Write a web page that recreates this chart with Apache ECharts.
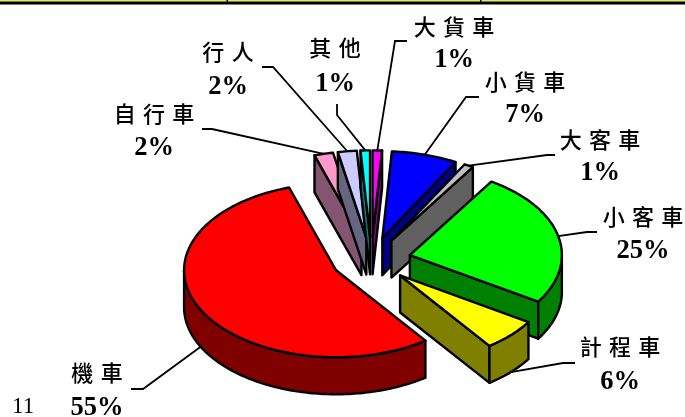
<!DOCTYPE html>
<html><head><meta charset="utf-8">
<style>html,body{margin:0;padding:0;background:#fff}#c{width:685px;height:417px}</style>
<script src="https://cdn.jsdelivr.net/npm/echarts@6/dist/echarts.min.js"></script>
</head><body><div id="c"></div>
<script>
// Data, in painter's order (back of the pie first)
var categories = ['自行車','行人','其他','大貨車','小貨車','大客車','小客車','計程車','機車'];
var percents   = [2,2,1,1,7,1,25,6,55];
var topColors  = ['#ff99cc','#ccccff','#00ffff','#ff00ff','#0000ff','#c0c0c0','#00ff00','#ffff00','#ff0000'];
var sideColors = ['#845570','#666680','#008080','#800080','#000080','#606060','#008000','#808000','#800000'];
var footnote = '11';

// Layout (not data)
var pie = {cx:371.3, cy:260, rx:152, ry:87, explode:0.26, depth:37, start:342};
var labelPos = [[154,114,148],[228,52,87],[335,48,84],[454,27,60],[525,82,115],[600,140,173],[643,217,251],[620,347,382],[97,373,408]];
var leaderPts = [
  [[202,129],[212,129]],[[262,67],[273,67]],[[337,104],[337,115]],[[407,41],[395,41]],[[479,97],[466,97]],
  [[555,155],[547,155]],[[597,232],[587,232]],[[575,363],[563,363]],[[131,389],[143,389]]
];

var total = percents.reduce(function(a,b){return a+b;},0);
function slice(i){
  var before = percents.slice(0,i).reduce(function(a,b){return a+b;},0);
  var a1 = pie.start + before/total*360;
  if(a1>=360-1e-6) a1-=360;
  var a2 = a1 + percents[i]/total*360, m=(a1+a2)/2;
  var ax = pie.cx + pie.rx*pie.explode*Math.sin(m*Math.PI/180);
  var ay = pie.cy - pie.ry*pie.explode*Math.cos(m*Math.PI/180);
  return {a1:a1,a2:a2,m:m,ax:ax,ay:ay};
}
function rim(s,a,d){
  var r=a*Math.PI/180;
  return [s.ax+pie.rx*Math.sin(r), s.ay-pie.ry*Math.cos(r)+(d||0)];
}
function poly(points,fill){
  return {type:'polygon',shape:{points:points},style:{fill:fill,stroke:'#000',lineWidth:2.4,lineJoin:'round'}};
}
function renderSlice(params,api){
  var i=api.value(0), s=slice(i), D=pie.depth, kids=[], a;
  var sn=function(a){return Math.sin(a*Math.PI/180);};
  var A=[s.ax,s.ay], B=[s.ax,s.ay+D];
  if(sn(s.a1)<-1e-6) kids.push(poly([A,rim(s,s.a1),rim(s,s.a1,D),B],sideColors[i]));
  if(sn(s.a2)>1e-6)  kids.push(poly([A,rim(s,s.a2),rim(s,s.a2,D),B],sideColors[i]));
  var lo=Math.max(s.a1,90), hi=Math.min(s.a2,270);
  if(hi>lo){
    var t=[],b=[];
    for(a=lo;a<hi;a+=1){t.push(rim(s,a));b.unshift(rim(s,a,D));}
    t.push(rim(s,hi));b.unshift(rim(s,hi,D));
    kids.push(poly(t.concat(b),sideColors[i]));
  }
  var top=[A];
  for(a=s.a1;a<s.a2;a+=1){top.push(rim(s,a));}
  top.push(rim(s,s.a2));
  kids.push(poly(top,topColors[i]));
  return {type:'group',children:kids};
}
function renderLabel(params,api){
  var i=api.value(0), s=slice(i);
  var front=s.m>90&&s.m<270;
  var end=rim(s,s.m,front?pie.depth:0);
  var lp=labelPos[i];
  return {type:'group',children:[
    {type:'polyline',shape:{points:leaderPts[i].concat([end])},style:{fill:null,stroke:'#000',lineWidth:1.8}},
    {type:'text',x:lp[0],y:lp[1],style:{text:categories[i].split('').join('\u2004'),font:'500 22px "Noto Sans CJK TC"',fill:'#000',align:'center',verticalAlign:'middle'}},
    {type:'text',x:lp[0],y:lp[2],style:{text:percents[i]+'%',font:'bold 26.5px "Liberation Serif"',fill:'#000',align:'center',verticalAlign:'middle'}}
  ]};
}
var idx=categories.map(function(c,i){return [i,percents[i]];});
var chart=echarts.init(document.getElementById('c'),null,{renderer:'canvas'});
chart.setOption({
  animation:false,
  backgroundColor:'#fff',
  graphic:[
    {type:'rect',shape:{x:0,y:0,width:685,height:1.5},style:{fill:'#e6e64d'},silent:true},
    {type:'rect',shape:{x:0,y:1.5,width:685,height:3},style:{fill:'#000'},silent:true},
    {type:'rect',shape:{x:226.5,y:0,width:1.5,height:2},style:{fill:'#000'},silent:true},
    {type:'rect',shape:{x:480,y:0,width:1.5,height:2},style:{fill:'#000'},silent:true},
    {type:'text',x:12,y:407,style:{text:footnote,font:'23px "Liberation Serif"',fill:'#000',verticalAlign:'middle'},silent:true}
  ],
  series:[
    {type:'custom',coordinateSystem:'none',z:1,data:idx,renderItem:renderLabel,silent:true},
    {type:'custom',coordinateSystem:'none',z:2,data:idx,renderItem:renderSlice,silent:true}
  ]
});
</script></body></html>
